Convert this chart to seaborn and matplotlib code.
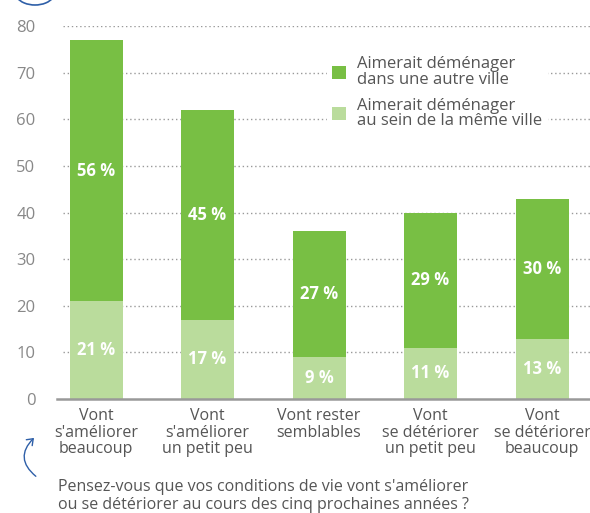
import matplotlib
matplotlib.use("Agg")
import matplotlib.pyplot as plt
import seaborn as sns
import pandas as pd
from matplotlib.patches import FancyArrowPatch, Arc

categories = ["Vont\ns'améliorer\nbeaucoup", "Vont\ns'améliorer\nun petit peu",
              "Vont rester\nsemblables", "Vont\nse détériorer\nun petit peu",
              "Vont\nse détériorer\nbeaucoup"]
autre_ville = [56, 45, 27, 29, 30]
meme_ville = [21, 17, 9, 11, 13]
series_names = ["Aimerait déménager\ndans une autre ville",
                "Aimerait déménager\nau sein de la même ville"]
yticks = [0, 10, 20, 30, 40, 50, 60, 70, 80]
caption = ("Pensez-vous que vos conditions de vie vont s'améliorer\n"
           "ou se détériorer au cours des cinq prochaines années ?")

DARK = "#78bf44"
LIGHT = "#badc9c"
TXT = "#555555"
TICK = "#888888"

sns.set_theme(style="white")
plt.rcParams["font.family"] = ["Open Sans", "DejaVu Sans"]

totals = [a + b for a, b in zip(autre_ville, meme_ville)]
df = pd.DataFrame({"cat": categories, "total": totals, "low": meme_ville})

fig = plt.figure(figsize=(5.9, 5.13), dpi=100)
ax = fig.add_axes([0.0966, 0.222, 0.9034, 0.727])

sns.barplot(data=df, x="cat", y="total", color=DARK, width=0.475, ax=ax,
            saturation=1, label=series_names[0], zorder=3, linewidth=0)
sns.barplot(data=df, x="cat", y="low", color=LIGHT, width=0.475, ax=ax,
            saturation=1, label=series_names[1], zorder=3, linewidth=0)

ax.set_xlim(-0.35, 4.43)
ax.set_ylim(0, 80)
ax.set_yticks(yticks)
ax.set_yticklabels([str(t) for t in yticks], color=TICK, fontsize=12)
ax.tick_params(axis="y", length=0, pad=15.5)
ax.tick_params(axis="x", length=0, pad=6.5)
ax.set_xticks(range(len(categories)))
ax.set_xticklabels(categories, color=TXT, fontsize=11.5, linespacing=1.05)
ax.set_xlabel("")
ax.set_ylabel("")

for t in yticks[1:]:
    ax.plot([-0.3, 4.43], [t, t], ls=(0, (1, 2)), color="#999999", lw=1, zorder=1)

for s in ["top", "right", "left"]:
    ax.spines[s].set_visible(False)
ax.spines["bottom"].set_color("#999999")
ax.spines["bottom"].set_linewidth(1.8)
ax.spines["bottom"].set_zorder(4)

for i, (a, b) in enumerate(zip(autre_ville, meme_ville)):
    ax.text(i, b + a / 2, f"{a} %", ha="center", va="center", color="white",
            fontsize=12, fontweight="bold", zorder=5)
    ax.text(i, b / 2, f"{b} %", ha="center", va="center", color="white",
            fontsize=12, fontweight="bold", zorder=5)

leg = ax.legend(loc="upper left", bbox_to_anchor=(0.49, 0.955), frameon=True,
                facecolor="white", edgecolor="white", framealpha=1,
                fontsize=12, handlelength=0.85, handleheight=0.85,
                labelspacing=0.6, handletextpad=0.7, borderpad=0.3)
for txt in leg.get_texts():
    txt.set_color(TXT)
    txt.set_linespacing(0.95)
leg.set_zorder(6)

fig.text(58 / 590, 1 - 496 / 513, caption, ha="left", va="center",
         color=TXT, fontsize=11.5, linespacing=1.2)

# decorative blue arrows
arr = FancyArrowPatch((38 / 590, 1 - 478 / 513), (36 / 590, 1 - 436 / 513),
                      connectionstyle="arc3,rad=-0.6", arrowstyle="->,head_length=4,head_width=3",
                      color="#2e5fa8", lw=1, transform=fig.transFigure)
fig.patches.append(arr)
arc = Arc((35 / 590, 1 - (-8) / 513), 40 / 590, 26 / 513, theta1=200, theta2=340,
          color="#2e5fa8", lw=1.2, transform=fig.transFigure)
fig.patches.append(arc)

fig.savefig("out.png", dpi=100)
